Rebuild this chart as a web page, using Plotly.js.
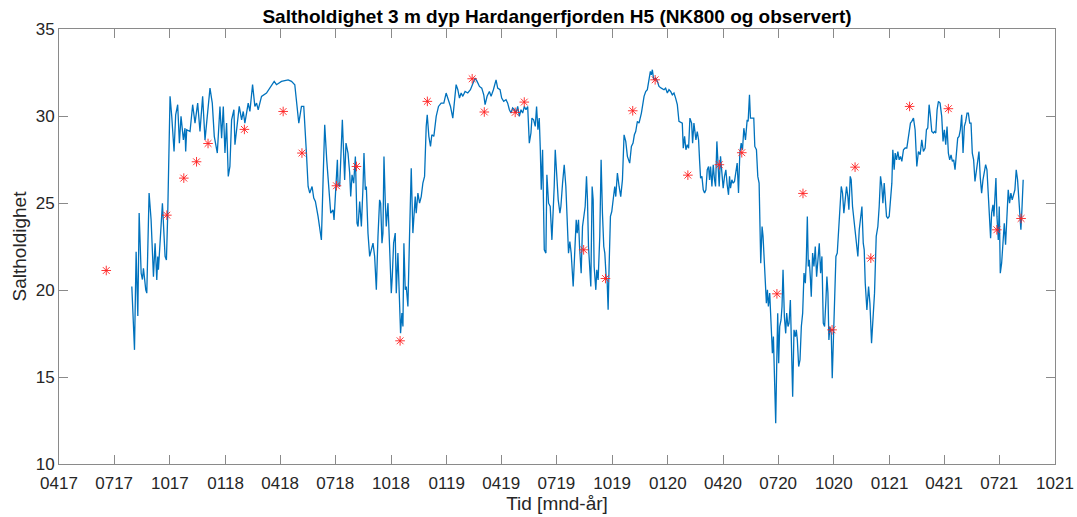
<!DOCTYPE html>
<html>
<head>
<meta charset="utf-8">
<script src="https://cdn.plot.ly/plotly-3.0.1.min.js"></script>
<style>html,body{margin:0;padding:0;background:#fff;}#chart{width:1077px;height:517px;}</style>
</head>
<body>
<div id="chart"></div>
<script>
// x positions are days since 2017-04-01
const tickDays = [0,91,183,275,365,456,548,640,730,821,913,1005,1096,1187,1279,1371,1461,1552,1644];
const tickLabels = ["0417","0717","1017","0118","0418","0718","1018","0119","0419","0719","1019","0120","0420","0720","1020","0121","0421","0721","1021"];

// NK800 model salinity (3 m)
const lineDay = [
120.2,124.6,127.3,130.1,132.3,135.6,137.7,139.4,143.2,144.9,148.7,152.0,155.9,158.6,161.4,163.0,164.1,166.8,170.7,175.1,
177.3,179.5,181.1,183.3,186.1,189.9,192.6,195.9,198.7,201.4,205.3,208.0,209.1,210.8,216.3,220.6,224.5,228.9,232.7,237.1,
241.0,243.7,249.2,253.0,256.3,261.3,265.7,268.4,271.2,273.9,276.6,279.4,282.1,284.9,288.7,290.4,293.7,297.5,301.4,304.1,
306.8,312.3,315.1,319.5,323.3,326.1,328.8,334.3,342.5,348.0,355.2,359.0,367.2,378.2,383.7,389.2,393.6,395.8,400.2,404.0,
408.4,411.2,413.9,417.7,420.5,423.2,427.6,433.1,435.9,438.6,441.9,445.7,448.5,452.3,454.0,459.5,460.6,463.3,467.7,471.5,
473.7,477.0,479.8,
481.5,483.7,486.4,489.2,491.9,493.6,496.3,499.1,501.8,503.4,505.6,507.3,510.0,512.8,515.5,518.3,521.0,523.8,526.5,529.2,
530.9,533.1,534.7,536.4,538.6,540.2,543.0,545.7,548.5,550.1,552.3,555.0,556.7,559.4,562.2,563.8,566.0,567.7,569.3,571.5,
573.2,575.9,578.7,581.4,584.1,585.8,588.0,589.6,592.4,595.1,597.9,600.6,603.4,606.1,607.8,610.5,613.2,615.4,618.7,622.6,
626.4,630.8,635.2,639.0,641.8,646.2,650.0,652.8,655.5,658.3,661.0,663.8,666.5,670.3,674.7,679.1,683.0,686.8,690.1,694.0,
697.8,701.1,703.3,706.6,710.4,713.2,717.0,721.4,724.1,728.0,730.7,734.0,737.9,740.6,743.4,746.1,748.8,751.6,754.3,757.1,
759.8,762.6,765.3,768.1,770.8,773.6,
776.3,779.0,780.6,783.4,786.1,788.3,790.5,792.7,794.4,796.0,798.2,801.0,803.7,805.3,808.1,810.8,813.6,815.2,817.4,819.1,
821.3,824.0,826.8,828.4,831.2,833.9,836.6,839.4,841.0,843.2,845.4,848.7,851.5,853.7,855.3,857.5,859.2,861.9,864.1,866.8,
868.5,870.7,872.3,874.0,876.2,877.8,880.0,881.7,883.3,886.1,887.7,889.9,892.6,894.8,897.0,899.2,900.9,903.1,904.7,906.4,
908.0,910.2,912.4,915.2,917.3,919.0,921.7,924.5,927.2,930.0,932.7,935.5,938.2,942.0,944.8,947.5,949.7,951.9,954.7,957.4,
961.3,965.7,968.4,971.1,973.9,976.1,977.7,979.4,981.6,984.9,987.6,990.4,994.2,998.6,1001.3,1004.1,1006.8,1009.6,1012.3,1015.1,
1017.8,1020.6,1023.3,
1028.8,1030.4,1032.6,1034.8,1037.0,1039.2,1041.4,1044.2,1045.8,1048.0,1049.7,1051.3,1053.5,1055.7,1057.3,1059.0,1061.2,1063.4,1065.6,1067.8,
1070.0,1072.2,1073.8,1075.5,1077.7,1079.9,1082.0,1083.7,1085.9,1087.5,1089.7,1091.9,1094.1,1096.3,1098.5,1100.7,1102.9,1105.1,1106.8,1108.4,
1110.6,1112.8,1115.0,1117.2,1119.4,1121.6,1123.8,1126.0,1128.2,1130.4,1133.1,1135.9,1137.5,1139.7,1141.3,1144.1,1146.8,1148.5,1151.2,1153.4,
1155.6,
1158.3,1160.5,1162.1,1164.3,1166.0,1167.6,1169.3,1170.9,1173.1,1175.3,1177.5,1179.2,1181.4,1183.0,1184.6,1186.3,1187.9,1189.6,1191.8,1193.4,
1195.1,1197.3,1199.5,1201.1,1203.3,1205.0,1207.2,1208.8,1211.0,1213.2,1215.4,1217.0,1218.7,1220.9,1223.1,1225.3,1227.5,1229.7,1231.9,1233.5,
1235.2,1236.8,1238.4,1240.1,1241.7,1243.9,1246.1,1248.3,1250.5,1252.7,1254.9,1257.1,1259.3,1261.5,1263.7,1265.9,1267.5,1269.2,1270.8,1272.5,
1274.7,1276.3,1278.0,1280.2,1282.4,1284.6,1286.8,1289.0,1291.2,1293.3,1295.5,1297.7,1299.9,1302.1,1303.8,1306.0,1307.6,1309.8,1312.0,1314.2,
1317.0,1318.6,
1320.9,1323.1,1325.3,1327.5,1329.1,1330.8,1333.5,1336.3,1338.5,1341.2,1344.0,1346.1,1348.9,1351.6,1353.8,1356.0,1358.2,1359.9,1362.1,1364.3,
1365.9,1368.1,1370.3,1372.5,1374.7,1376.3,1378.5,1380.2,1382.4,1384.6,1386.8,1389.0,1391.2,1393.9,1396.7,1399.4,1401.0,1403.2,1405.4,1407.6,
1410.4,1413.1,1415.9,1418.6,1421.4,1424.1,1426.8,1429.6,1431.8,1434.0,1436.2,1438.4,1440.6,1443.3,1445.0,1447.2,1449.4,1451.6,1454.3,1457.0,
1459.2,1461.4,1463.6,1465.8,1468.0,1470.2,1472.4,1474.6,1476.8,1479.0,1481.2,1483.4,1485.6,1487.8,1490.0,1492.2,1494.4,1496.6,1498.8,1501.0,
1503.2,1505.4,1507.5,1509.7,1511.9,1514.1,1516.3,1518.5,1520.7,1522.9,1525.1,1527.3,1529.5,1531.7,1533.9,1536.1,1537.7,1539.4,1541.6,1543.2,
1544.9,1546.5,1548.2,1550.4,1552.0,1553.7,1555.9,1558.1,1560.3,1562.4,1564.6,1566.8,1569.0,1571.2,1573.4,1575.6,1577.8,1580.0,1582.2,1584.4,
1586.6,1587.7,1589.4,1591.5
];
const lineSal = [
20.2,16.56,22.2,18.5,24.42,20.97,20.6,21.25,20.01,19.82,25.57,24.04,20.77,22.69,20.58,21.93,21.16,22.5,24.99,21.93,
21.73,24.42,27.0,31.13,29.98,27.96,30.07,30.65,28.44,29.98,28.63,29.3,27.96,29.21,29.11,30.65,29.59,30.74,29.11,31.13,
28.63,29.59,31.6,30.74,28.83,27.87,30.55,28.73,30.55,27.87,29.59,26.53,27.1,29.78,30.36,28.35,29.4,30.55,29.78,30.26,
29.59,30.74,30.26,31.8,30.55,30.74,30.36,31.13,31.32,31.6,31.99,31.8,31.99,32.08,31.99,31.8,30.36,29.59,30.55,30.55,
27.87,25.95,25.57,25.95,25.28,25.09,24.23,22.88,26.33,29.5,27.48,25.57,24.42,24.61,24.03,27.48,26.05,25.95,29.78,26.33,
28.44,27.87,26.72,
25.37,26.62,26.14,27.67,23.84,23.65,25.09,23.65,25.95,27.87,25.76,25.95,23.27,21.93,22.31,22.69,21.93,20.01,23.08,25.18,
24.99,22.69,23.27,27.67,24.99,23.65,24.99,22.69,19.82,20.77,22.69,23.27,19.82,22.12,18.67,17.51,18.67,17.9,22.69,20.01,
20.2,19.05,23.27,27.0,23.27,24.42,25.37,24.42,25.57,24.99,25.37,26.14,26.53,29.4,30.07,28.83,28.25,28.92,28.83,29.98,
30.55,30.74,30.74,31.32,31.03,30.55,29.88,31.13,31.8,31.51,31.03,31.32,31.13,31.41,31.32,31.51,31.8,32.18,31.99,31.7,
31.6,31.22,30.65,31.13,31.41,31.13,31.51,32.08,31.6,31.51,31.03,30.84,30.93,30.74,30.36,30.17,30.46,30.36,30.17,30.55,
29.98,30.36,30.17,30.55,30.36,30.55,
28.44,29.02,29.88,29.78,29.4,30.55,29.21,29.88,28.15,25.76,28.06,22.31,22.12,26.62,24.99,24.8,22.88,24.03,25.95,28.06,
26.53,25.18,24.42,24.8,26.14,27.2,25.95,23.46,22.12,22.79,22.12,20.2,22.5,24.03,23.27,24.03,22.5,20.97,23.65,24.23,
24.8,26.53,25.18,22.5,21.35,20.2,25.95,25.18,21.35,20.01,21.16,20.58,23.08,27.48,24.42,22.5,22.12,20.77,20.58,18.86,
21.35,24.23,24.51,25.18,25.95,25.37,26.72,25.95,25.37,26.33,28.92,28.54,27.68,27.29,28.25,28.44,28.92,29.11,29.69,29.59,
30.17,31.13,31.41,31.51,32.08,32.56,32.37,32.66,32.08,32.18,31.99,31.7,31.6,31.51,31.6,31.32,31.51,31.41,31.22,31.32,
31.03,30.65,29.69,
29.59,28.15,28.83,28.06,28.35,28.15,29.88,29.59,28.44,29.59,29.11,28.63,29.11,28.63,27.48,26.43,26.53,25.76,25.57,25.76,
26.91,27.1,26.33,27.1,25.95,27.2,26.33,25.95,28.54,27.48,25.95,27.68,26.81,25.85,26.53,26.91,26.05,25.47,26.53,25.85,
26.33,26.14,26.24,26.72,27.29,25.57,27.87,28.44,28.06,29.3,28.63,29.78,29.69,31.22,29.88,29.88,29.88,28.25,28.06,26.53,
26.14,
21.54,23.65,23.08,21.35,19.82,19.24,20.01,19.05,19.82,17.9,16.37,17.32,14.83,12.34,15.6,18.67,15.79,17.9,18.28,19.05,
21.16,18.47,17.51,18.67,17.9,18.09,19.43,16.94,13.87,17.71,17.32,17.71,17.13,15.6,15.98,17.9,18.67,20.97,20.39,21.73,
24.23,21.35,21.73,20.77,19.62,22.12,21.35,22.5,20.77,21.73,22.69,20.97,21.93,18.09,17.9,19.43,20.77,19.82,17.13,17.9,
17.51,14.93,16.94,20.2,21.93,22.12,23.46,24.99,25.95,25.57,24.42,25.18,25.95,25.37,24.61,26.53,26.33,24.8,24.03,23.27,
22.5,21.93,
23.46,24.23,24.8,22.69,22.31,20.39,18.86,20.2,19.24,16.94,18.47,19.82,23.08,23.65,24.8,26.53,25.95,24.99,26.14,24.99,
24.23,24.13,24.23,25.18,26.14,28.06,26.91,27.87,27.48,27.96,27.48,27.68,27.39,28.06,28.16,28.16,28.63,29.21,29.59,29.69,
29.88,29.21,27.1,27.96,27.77,28.63,27.96,28.16,29.21,29.31,30.65,29.98,29.11,29.02,29.11,29.02,30.36,30.84,30.74,29.98,
28.54,29.21,28.35,29.4,27.87,27.48,27.77,27.39,27.48,26.91,28.16,28.73,28.83,29.21,30.07,27.87,29.4,29.69,30.17,30.17,
29.59,29.59,27.87,27.48,26.24,26.91,27.39,27.96,26.43,25.57,26.33,26.72,27.2,26.91,25.18,23.55,22.98,24.42,24.9,24.23,
25.18,26.43,24.23,22.88,24.8,20.97,21.54,22.88,23.84,22.6,24.42,25.76,24.99,25.57,25.18,25.57,25.76,26.91,26.34,25.18,
24.23,23.46,24.61,26.34
];

// Observed salinity
const obsDay = [78,178,206,227,246,306,370,401,458,491,563,608,682,702,753,768,866,902,947,984,1038,1090,1127,1185,1228,1276,1314,1340,1404,1468,1548,1588];
const obsSal = [21.12,24.30,26.43,27.37,28.42,29.23,30.26,27.87,25.99,27.10,17.08,30.84,32.14,30.23,30.21,30.80,22.31,20.66,30.30,32.08,26.60,27.20,27.89,19.78,25.55,17.71,27.06,21.83,30.55,30.42,23.46,24.11];

const font = 'Liberation Sans, Arial, Helvetica, sans-serif';

const traces = [
  {x: lineDay, y: lineSal, type: 'scatter', mode: 'lines', line: {color: '#0072BD', width: 1.3}, hoverinfo: 'skip'},
  {x: obsDay, y: obsSal, type: 'scatter', mode: 'markers',
   marker: {symbol: 'asterisk-open', size: 8, color: '#FF2020', line: {color: '#FF2020', width: 0.9}}}
];

const axisCommon = {
  showgrid: false, zeroline: false, showline: true, linecolor: '#8a8a8a', linewidth: 1,
  mirror: 'allticks', ticks: 'inside', ticklen: 9, tickcolor: '#8a8a8a', tickwidth: 1,
  tickfont: {family: font, size: 17, color: '#262626'}
};

const layout = {
  width: 1077, height: 517,
  margin: {l: 59, r: 22, t: 29, b: 53},
  paper_bgcolor: '#fff', plot_bgcolor: '#fff',
  showlegend: false,
  title: {text: '<b>Saltholdighet 3 m dyp Hardangerfjorden H5 (NK800 og observert)</b>',
          font: {family: font, size: 19, color: '#000'},
          x: 0.5, xref: 'paper', xanchor: 'center', y: 1 - 16/517, yref: 'container', yanchor: 'middle'},
  xaxis: Object.assign({}, axisCommon, {
    range: [0, 1644], tickmode: 'array', tickvals: tickDays, ticktext: tickLabels,
    ticklabelstandoff: 4,
    title: {text: 'Tid [mnd-år]', font: {family: font, size: 19, color: '#262626'}, standoff: 4}
  }),
  yaxis: Object.assign({}, axisCommon, {
    range: [10, 35], tickmode: 'linear', tick0: 10, dtick: 5,
    title: {text: 'Saltholdighet', font: {family: font, size: 19, color: '#262626'}, standoff: 4}
  })
};

Plotly.newPlot('chart', traces, layout, {displayModeBar: false, staticPlot: true});
</script>
</body>
</html>
